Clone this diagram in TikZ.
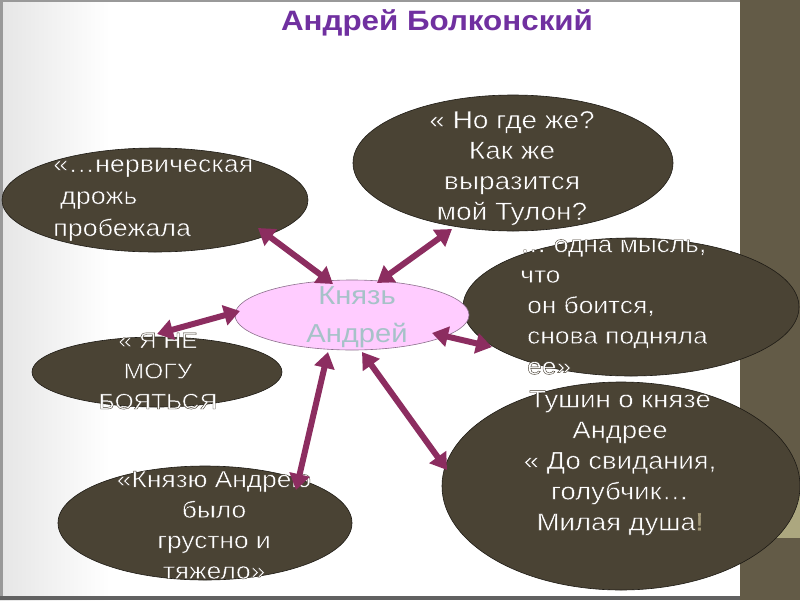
\documentclass[tikz,border=0pt]{standalone}
\usepackage{fontspec}
\setmainfont{Liberation Sans}[FakeStretch=1.12]
\usetikzlibrary{arrows.meta,shapes.geometric}
\definecolor{darkel}{HTML}{4A4334}
\definecolor{band}{HTML}{635B47}
\definecolor{khaki}{HTML}{ACA77F}
\definecolor{arrowc}{HTML}{8C2D60}
\definecolor{titlec}{HTML}{7030A0}
\definecolor{pinkc}{HTML}{FFCCFF}
\definecolor{centtext}{HTML}{A6C2C8}
\definecolor{excl}{HTML}{A39878}
\newcommand\outlon{\special{pdf:literal direct 2 Tr 0.4 w 0.25 0.22 0.17 RG}}
\newcommand\outloff{\special{pdf:literal direct 0 Tr}}
\begin{document}
\begin{tikzpicture}[x=1pt,y=-1pt,
  bubble/.style={ellipse,draw=black!60!darkel,line width=0.6pt,fill=darkel,inner sep=0pt},
  quote/.style={text=white,inner sep=0pt,font=\fontsize{23.5}{30.5}\selectfont},
  link/.style={draw=arrowc,line width=6pt,{Triangle[width=20pt,length=16pt]}-{Triangle[width=20pt,length=16pt]}}]
\useasboundingbox (0,0) rectangle (800,600);
% slide background
\fill[white] (0,0) rectangle (740,600);
\shade[left color=black!10,right color=white] (0,0) rectangle (110,600);
\fill[black!40] (0,0) rectangle (740,2);
\fill[black!40] (0,0) rectangle (3,600);
\fill[black!62] (0,596) rectangle (740,600);
\fill[band] (740,0) rectangle (800,600);
\fill[khaki] (740,482) rectangle (800,538);
% title
\node[text=titlec,font=\fontsize{28}{32}\bfseries\selectfont] (title) at (437,23) {Андрей Болконский};
% ellipses
\node[bubble,minimum width=306pt,minimum height=104pt] (e1) at (155,200) {};
\node[bubble,minimum width=320pt,minimum height=136pt] (e2) at (513,163) {};
\node[bubble,minimum width=336pt,minimum height=138pt] (e3) at (631,307) {};
\node[bubble,minimum width=250pt,minimum height=70pt] (e4) at (157,372) {};
\node[bubble,minimum width=294pt,minimum height=114pt] (e5) at (205,523) {};
\node[bubble,minimum width=358pt,minimum height=208pt] (e6) at (621,486) {};
\node[ellipse,draw=black!45!pinkc,line width=0.6pt,fill=pinkc,minimum width=234pt,minimum height=70pt,inner sep=0pt] (c) at (352,315) {};
% texts
\node[quote,anchor=west,align=left,font=\fontsize{24}{32}\selectfont] (t1) at (53,200) {\outlon«…нервическая\\\hspace*{7pt}дрожь\\пробежала\outloff};
\node[quote,align=center,font=\fontsize{25}{30.5}\selectfont] (t2) at (512,168) {\outlon« Но где же?\\Как же\\выразится\\мой Тулон?\outloff};
\node[quote,anchor=west,align=left] (t3) at (520,307) {\outlon… одна мысль,\\что\\\hspace*{7pt}он боится,\\\hspace*{7pt}снова подняла\\\hspace*{7pt}ее»\outloff};
\node[quote,align=center,font=\fontsize{22}{30.5}\selectfont] (t4) at (158,371) {\outlon« Я НЕ\\МОГУ\\БОЯТЬСЯ\outloff};
\node[quote,align=center] (t5) at (214,525) {\outlon«Князю Андрею\\было\\грустно и\\тяжело»\outloff};
\node[quote,align=center,font=\fontsize{24.5}{30.7}\selectfont] (t6) at (620,463) {\outlon Тушин о князе\\Андрее\\« До свидания,\\голубчик…\\Милая душа\textcolor{excl}{!}\outloff};
\node[text=centtext,align=center,inner sep=0pt,font=\fontsize{26}{38}\selectfont] (tc) at (357,317) {Князь\\Андрей};
% connectors
\coordinate (a1s) at (258,228); \coordinate (a1e) at (333,284);
\coordinate (a2s) at (452,229); \coordinate (a2e) at (377,283);
\coordinate (a3s) at (492,347); \coordinate (a3e) at (432,333);
\coordinate (a4s) at (157,334); \coordinate (a4e) at (240,311);
\coordinate (a5s) at (296,490); \coordinate (a5e) at (328,352);
\coordinate (a6s) at (447,470); \coordinate (a6e) at (362,352);
\draw[link] (a1s) -- (a1e);
\draw[link] (a2s) -- (a2e);
\draw[link] (a3s) -- (a3e);
\draw[link] (a4s) -- (a4e);
\draw[link] (a5s) -- (a5e);
\draw[link] (a6s) -- (a6e);
\end{tikzpicture}
\end{document}
